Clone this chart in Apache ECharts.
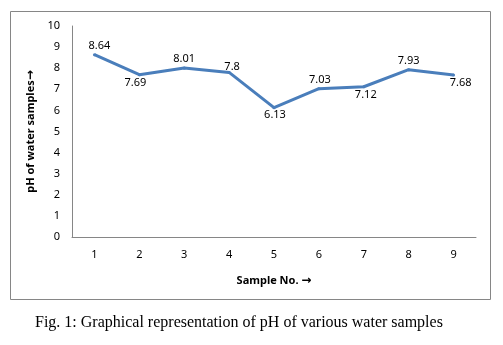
<!DOCTYPE html>
<html>
<head>
<meta charset="utf-8">
<script src="https://cdn.jsdelivr.net/npm/echarts@6/dist/echarts.min.js"></script>
<style>
html,body{margin:0;padding:0;background:#fff;}
#c{width:503px;height:345px;}
</style>
</head>
<body>
<div id="c"></div>
<script>
const categories = ['1','2','3','4','5','6','7','8','9'];
const phValues = [8.64, 7.69, 8.01, 7.8, 6.13, 7.03, 7.12, 7.93, 7.68];
const yTicks = [0,1,2,3,4,5,6,7,8,9,10];
const xTitle = 'Sample No. ';
const yTitle = 'pH of water samples';
const arrow = '\u2192';
const caption = 'Fig. 1: Graphical representation of pH of various water samples';

const font = 'Noto Sans';
const titleRich = {
  t: {color: '#000', fontFamily: font, fontSize: 11, fontWeight: 'bold'},
  a: {color: '#000', fontFamily: 'DejaVu Sans', fontSize: 12, fontWeight: 'bold'}
};
// label placement (style only): side and small nudges, as in the original
const labelStyle = [
  {pos: 'top', off: [5, 0]},
  {pos: 'bottom', off: [-4, 0]},
  {pos: 'top', off: [0, 0]},
  {pos: 'top', off: [3, 3]},
  {pos: 'bottom', off: [1, -1]},
  {pos: 'top', off: [1, 0]},
  {pos: 'bottom', off: [2, 0]},
  {pos: 'top', off: [0, 0]},
  {pos: 'bottom', off: [7, 0]}
];

const chart = echarts.init(document.getElementById('c'), null, {renderer: 'canvas'});
chart.setOption({
  animation: false,
  backgroundColor: '#fff',
  grid: {left: 72, right: 27, top: 26, bottom: 108, containLabel: false},
  xAxis: {
    type: 'category',
    data: categories,
    boundaryGap: true,
    axisLine: {show: true, lineStyle: {color: '#868686', width: 1}},
    axisTick: {show: false},
    axisLabel: {color: '#000', fontFamily: font, fontSize: 11, margin: 12},
    name: '{t|' + xTitle + '}{a|' + arrow + '}',
    nameLocation: 'middle',
    nameGap: 38,
    nameTextStyle: {rich: titleRich}
  },
  yAxis: {
    type: 'value',
    min: yTicks[0],
    max: yTicks[yTicks.length - 1],
    interval: yTicks[1] - yTicks[0],
    axisLine: {show: true, lineStyle: {color: '#868686', width: 1}},
    axisTick: {show: false},
    splitLine: {show: false},
    axisLabel: {color: '#000', fontFamily: font, fontSize: 11, margin: 12},
    name: '{t|' + yTitle + '}{a|' + arrow + '}',
    nameLocation: 'middle',
    nameGap: 33,
    nameRotate: 90,
    nameTextStyle: {rich: titleRich}
  },
  series: [{
    type: 'line',
    data: phValues.map((v, i) => ({
      value: v,
      label: {
        show: true,
        position: labelStyle[i].pos,
        distance: labelStyle[i].pos === 'bottom' ? 1 : 2,
        offset: labelStyle[i].off
      }
    })),
    symbol: 'circle',
    symbolSize: 3,
    showSymbol: true,
    lineStyle: {color: '#4A7EBB', width: 3},
    itemStyle: {color: '#4A7EBB'},
    label: {show: true, color: '#000', fontFamily: font, fontSize: 11}
  }],
  graphic: [
    {type: 'rect', shape: {x: 10.5, y: 11.5, width: 480, height: 288}, style: {fill: 'none', stroke: '#868686', lineWidth: 1}, silent: true},
    {type: 'text', left: 35, top: 315, style: {text: caption, fill: '#000', font: '16px "Liberation Serif"'}}
  ]
});
</script>
</body>
</html>
